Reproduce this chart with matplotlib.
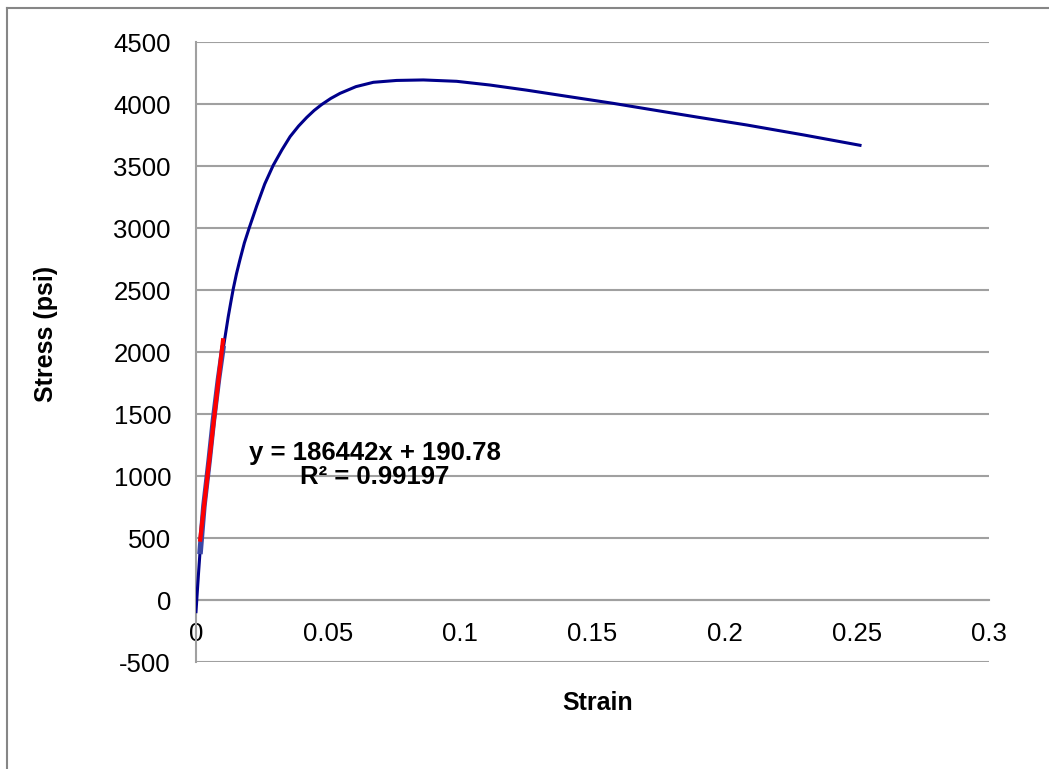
import matplotlib
matplotlib.use('Agg')
import matplotlib.pyplot as plt
from matplotlib.lines import Line2D
import numpy as np

plt.rcParams['font.family'] = ['Liberation Sans', 'DejaVu Sans']
plt.rcParams['axes.unicode_minus'] = False

# measured stress-strain curve
strain = [0.0, 0.0005, 0.001, 0.0015, 0.003, 0.005, 0.0066, 0.0085, 0.0101,
          0.0112, 0.0122, 0.0132, 0.0141, 0.0153, 0.0166, 0.0183, 0.0202,
          0.023, 0.026, 0.0292, 0.0325, 0.0356, 0.0388, 0.0419, 0.0447,
          0.0475, 0.051, 0.0545, 0.0605, 0.0671, 0.0759, 0.086, 0.0986,
          0.1112, 0.125, 0.14, 0.1579, 0.175, 0.19, 0.2083, 0.23, 0.2512]
stress = [-94, 70, 230, 380, 760, 1130, 1450, 1780, 2000,
          2150, 2285, 2405, 2510, 2630, 2742, 2880, 3005,
          3180, 3355, 3505, 3630, 3737, 3822, 3892, 3948,
          3995, 4045, 4086, 4140, 4175, 4190, 4194, 4183,
          4153, 4112, 4063, 4005, 3945, 3893, 3831, 3750, 3667]

# elastic region used for the linear fit
elastic_strain = [0.0015, 0.003, 0.005, 0.0066, 0.0085, 0.0103]
elastic_stress = [370, 760, 1130, 1450, 1780, 2050]

slope = 186442
intercept = 190.78
r_squared = 0.99197

x_ticks = [0, 0.05, 0.1, 0.15, 0.2, 0.25, 0.3]
x_labels = ['0', '0.05', '0.1', '0.15', '0.2', '0.25', '0.3']
y_ticks = list(range(-500, 5000, 500))

W, H = 1049, 769
fig = plt.figure(figsize=(W / 100, H / 100), dpi=100)
ax = fig.add_axes([196 / W, 1 - 662 / H, (989 - 196) / W, (662 - 42) / H])

ax.plot(strain, stress, color='#00008b', lw=2.2, zorder=3,
        solid_joinstyle='round')
ax.plot(elastic_strain, elastic_stress, color='#3a46a6', lw=4.0, zorder=4,
        solid_capstyle='butt')

fit_x = np.array([min(elastic_strain), max(elastic_strain)])
ax.plot(fit_x, slope * fit_x + intercept, color='#ff0000', lw=3.0, zorder=5,
        solid_capstyle='butt')

eq = 'y = {}x + {}\nR² = {}'.format(slope, intercept, r_squared)
ax.text(0.0677, 1089, eq, ha='center', va='center', multialignment='center',
        fontsize=18.5, fontweight='bold', linespacing=1.0, zorder=6)

ax.set_xlim(0, 0.3)
ax.set_ylim(-500, 4500)
ax.set_xticks(x_ticks)
ax.set_xticklabels(x_labels)
ax.set_yticks(y_ticks)
ax.tick_params(axis='both', length=0, labelsize=18.5)
ax.tick_params(axis='x', pad=16)
ax.tick_params(axis='y', pad=18)

grid_col = '#a0a0a0'
ax.yaxis.grid(True, color=grid_col, lw=1.5)
ax.set_axisbelow(True)
for side in ['top', 'right']:
    ax.spines[side].set_visible(False)
ax.spines['bottom'].set_position(('data', 0))
ax.spines['bottom'].set_color(grid_col)
ax.spines['bottom'].set_linewidth(1.5)
ax.spines['left'].set_color(grid_col)
ax.spines['left'].set_linewidth(1.5)

fig.text(598 / W, 1 - 703 / H, 'Strain', ha='center', va='center',
         fontsize=18, fontweight='bold')
fig.text(46 / W, 1 - 334 / H, 'Stress (psi)', ha='center', va='center',
         rotation=90, fontsize=18, fontweight='bold')

# chart frame, left and top edges
border = '#868686'
fig.add_artist(Line2D([7 / W, 7 / W], [0, 1 - 8 / H], color=border, lw=1.5,
                      transform=fig.transFigure))
fig.add_artist(Line2D([7 / W, 1], [1 - 8 / H, 1 - 8 / H], color=border, lw=1.5,
                      transform=fig.transFigure))

fig.savefig('out.png', dpi=100)
